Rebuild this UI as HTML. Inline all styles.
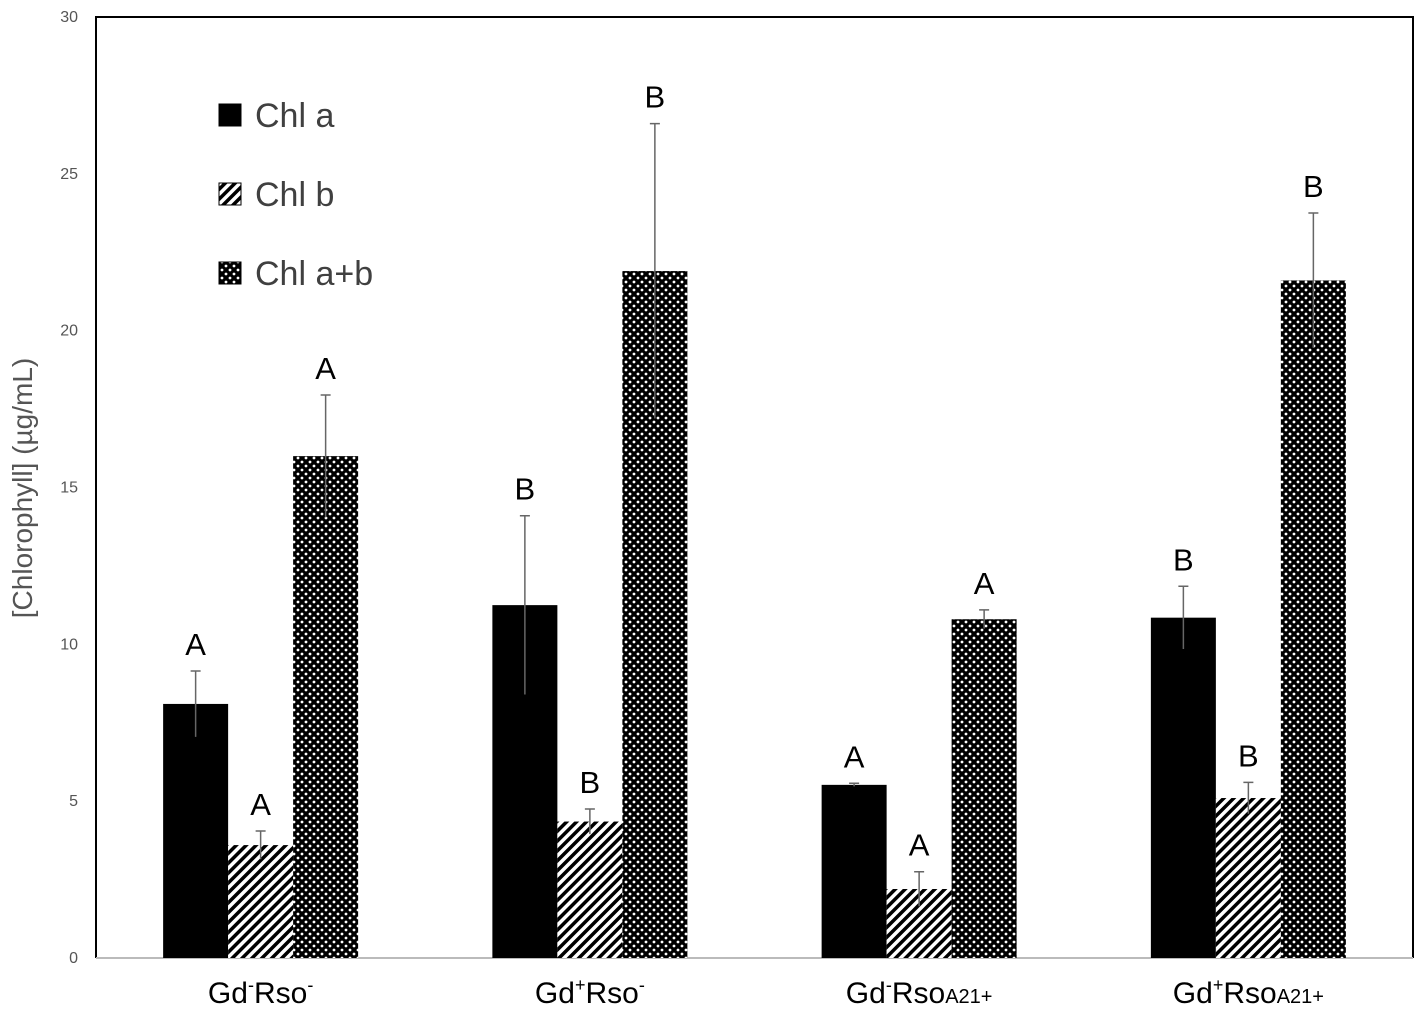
<!DOCTYPE html>
<html><head><meta charset="utf-8"><style>
html,body{margin:0;padding:0;background:#fff;}
svg text{font-family:"Liberation Sans","DejaVu Sans",sans-serif;}
</style></head><body>
<svg id="chart" width="1417" height="1012" viewBox="0 0 1417 1012" xmlns="http://www.w3.org/2000/svg">
<defs>
<pattern id="hatch" patternUnits="userSpaceOnUse" width="7" height="7" patternTransform="rotate(45)">
<rect width="7" height="7" fill="#fff"/><rect width="3.5" height="7" fill="#000"/>
</pattern>
<pattern id="dots" patternUnits="userSpaceOnUse" width="8" height="8">
<rect width="8" height="8" fill="#000"/><circle cx="2" cy="2" r="1.4" fill="#fff"/><circle cx="6" cy="6" r="1.4" fill="#fff"/>
</pattern>
</defs>
<g id="plot"></g>
</svg>
<script>
const categories = ["Gd-Rso-","Gd+Rso-","Gd-RsoA21+","Gd+RsoA21+"];
const chlA = [8.1, 11.25, 5.52, 10.85];
const chlAErr = [1.05, 2.85, 0.05, 1.0];
const chlB = [3.6, 4.35, 2.2, 5.1];
const chlBErr = [0.45, 0.4, 0.55, 0.5];
const chlAB = [16.0, 21.9, 10.8, 21.6];
const chlABErr = [1.95, 4.7, 0.3, 2.15];
const lettersA = ["A","B","A","B"];
const lettersB = ["A","B","A","B"];
const lettersAB = ["A","B","A","B"];
const yTicks = [0,5,10,15,20,25,30];

const NS = "http://www.w3.org/2000/svg";
const L = 96, R = 1413, T = 17, B = 958;
const y = v => B - (v / 30) * (B - T);
const catW = (R - L) / categories.length;
const xc = i => L + catW * (i + 0.5);
const barW = 65;
const g = document.getElementById('plot');
function el(tag, attrs, text) {
  const e = document.createElementNS(NS, tag);
  for (const k in attrs) e.setAttribute(k, attrs[k]);
  if (text !== undefined) e.textContent = text;
  g.appendChild(e);
  return e;
}
let fr = el('path', {d:`M${L},${B} L${L},${T} L${R},${T} L${R},${B}`, fill:'none', stroke:'#000', 'stroke-width':2});


let xa = el('line', {x1:L, y1:B, x2:R, y2:B, stroke:'#bbb', 'stroke-width':2});


yTicks.forEach(t => {
  const tx = el('text', {x:L-18, y:y(t)+5, 'text-anchor':'end', 'font-size':16, fill:'#555'}, String(t));
  
  
});
const yt = el('text', {x:0, y:0, transform:`translate(32,488) rotate(-90)`, 'text-anchor':'middle', 'font-size':28, fill:'#555'}, '[Chlorophyll] (µg/mL)');



const series = [
  {vals:chlA, err:chlAErr, lt:lettersA, fill:'#000', name:'chl-a'},
  {vals:chlB, err:chlBErr, lt:lettersB, fill:'url(#hatch)', name:'chl-b'},
  {vals:chlAB, err:chlABErr, lt:lettersAB, fill:'url(#dots)', name:'chl-ab'}
];
categories.forEach((c, i) => {
  series.forEach((s, j) => {
    const x0 = xc(i) - 1.5 * barW + j * barW;
    const v = s.vals[i], e = s.err[i];
    const r = el('rect', {x:x0, y:y(v), width:barW, height:B - y(v), fill:s.fill});
    
    
    const cx = x0 + barW / 2;
    const eb = el('path', {d:`M${cx},${y(v+e)} L${cx},${y(v-e)} M${cx-5},${y(v+e)} L${cx+5},${y(v+e)}`, stroke:'#666', 'stroke-width':1.5, fill:'none'});
    
    
    const lt = el('text', {x:cx, y:y(v+e)-16, 'text-anchor':'middle', 'font-size':31, fill:'#000'}, s.lt[i]);
    
    
  });
});
const labelParts = [
  [["Gd",""],["-","sup"],["Rso",""],["-","sup"]],
  [["Gd",""],["+","sup"],["Rso",""],["-","sup"]],
  [["Gd",""],["-","sup"],["Rso",""],["A21+","sub"]],
  [["Gd",""],["+","sup"],["Rso",""],["A21+","sub"]]
];
categories.forEach((c, i) => {
  const t = el('text', {x:xc(i), y:1003, 'text-anchor':'middle', 'font-size':30, fill:'#000'});
  
  
  labelParts[i].forEach(p => {
    const ts = document.createElementNS(NS, 'tspan');
    ts.textContent = p[0];
    if (p[1] === 'sup') { ts.setAttribute('font-size', 18); ts.setAttribute('dy', -12); }
    else if (p[1] === 'sub') { ts.setAttribute('font-size', 20); ts.setAttribute('dy', 0); }
    else ts.setAttribute('dy', (t.childNodes.length && labelParts[i][t.childNodes.length-1][1]==='sup') ? 12 : 0);
    t.appendChild(ts);
  });
});
const legendNames = ["Chl a","Chl b","Chl a+b"];
const legendFills = ['#000','url(#hatch)','url(#dots)'];
legendNames.forEach((n, k) => {
  const ly = 115 + k * 79;
  const sq = el('rect', {x:219, y:ly-11, width:22, height:22, fill:legendFills[k], stroke:'#000', 'stroke-width':1});
  
  
  const lt = el('text', {x:255, y:ly+12, 'font-size':34, fill:'#404040'}, n);
  
  
});
</script>
</body></html>
